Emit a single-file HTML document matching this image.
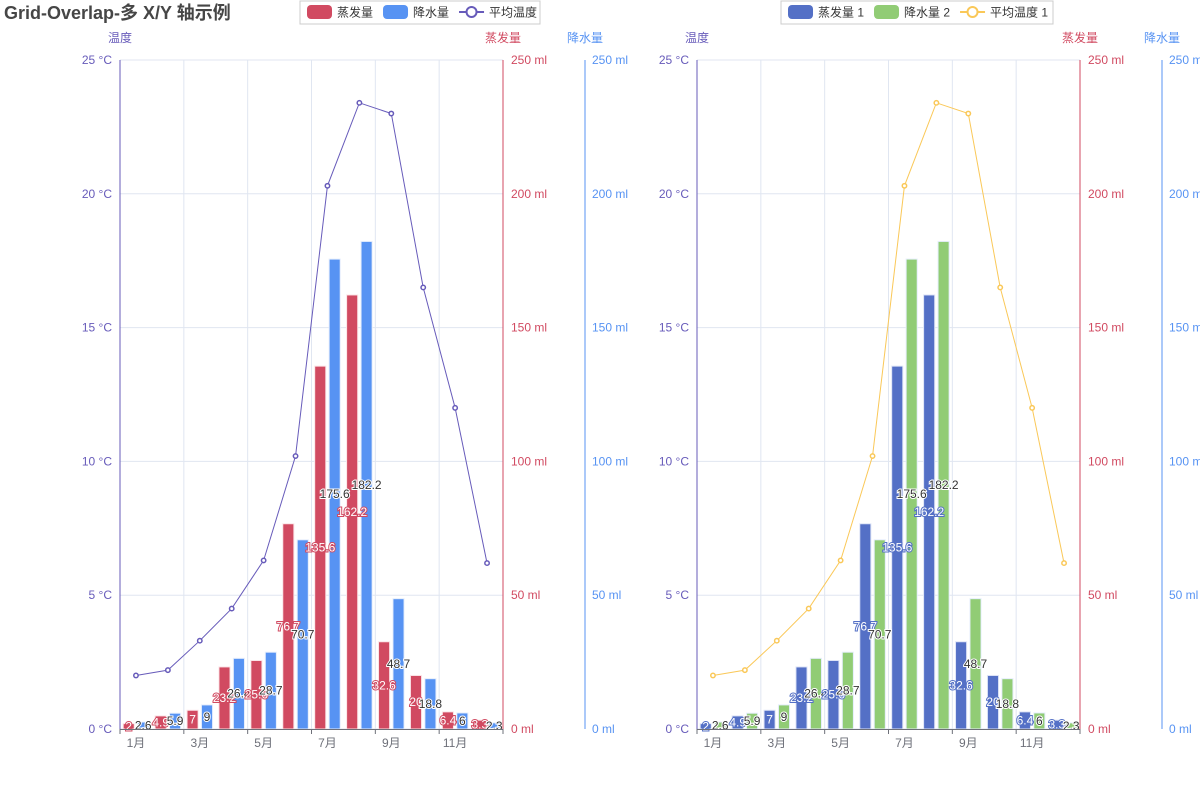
<!DOCTYPE html>
<html><head><meta charset="utf-8">
<style>
body{margin:0;background:#fff;width:1200px;height:800px;overflow:hidden;font-family:"Liberation Sans","Noto Sans CJK SC",sans-serif}
svg{display:block}
text{font-family:"Liberation Sans","Noto Sans CJK SC",sans-serif}
</style></head>
<body>
<svg id="c" width="1200" height="800"></svg>
<script>
const months=['1月','2月','3月','4月','5月','6月','7月','8月','9月','10月','11月','12月'];
const evaporation=[2.0,4.9,7.0,23.2,25.6,76.7,135.6,162.2,32.6,20.0,6.4,3.3];
const precipitation=[2.6,5.9,9.0,26.4,28.7,70.7,175.6,182.2,48.7,18.8,6.0,2.3];
const temperature=[2.0,2.2,3.3,4.5,6.3,10.2,20.3,23.4,23.0,16.5,12.0,6.2];
const tempTicks=[0,5,10,15,20,25];
const mlTicks=[0,50,100,150,200,250];

const svgEl=document.getElementById('c');
const NS='http://www.w3.org/2000/svg';
function mk(tag,attrs,parent,txt){const e=document.createElementNS(NS,tag);for(const k in attrs)e.setAttribute(k,attrs[k]);if(txt!==undefined)e.textContent=txt;(parent||svgEl).appendChild(e);return e;}

const PUR='#675bba',RED='#d14a61',BLU='#5793f3';
const plotTop=60,plotBot=729;

const t=mk('text',{x:4,y:19,'font-size':18,'font-weight':'bold',fill:'#464646'},svgEl,'Grid-Overlap-多 X/Y 轴示例');



function chart(x0,x1,x2,cEvap,cPrec,cLine,names,legX,legW,evapStroke,pfx){
  const yT=v=>plotBot-(v/25)*(plotBot-plotTop);
  const yM=v=>plotBot-(v/250)*(plotBot-plotTop);
  const cw=(x1-x0)/months.length;
  const g=mk('g',{});
  
  
  const lg=mk('g',{},g);
  
  
  mk('rect',{x:legX,y:1,width:legW,height:23,fill:'#fff',stroke:'#ccc'},lg);
  let lx=legX+7;
  [[cEvap,names[0],'bar'],[cPrec,names[1],'bar'],[cLine,names[2],'line']].forEach(([col,nm,kind],i)=>{
    const it=mk('g',{},lg);
    
    
    if(kind==='bar')mk('rect',{x:lx,y:5,width:25,height:14,rx:4,fill:col},it);
    else{mk('line',{x1:lx,y1:12,x2:lx+25,y2:12,stroke:col,'stroke-width':2},it);mk('circle',{cx:lx+12.5,cy:12,r:5,fill:'#fff',stroke:col,'stroke-width':2},it);}
    const tx=mk('text',{x:lx+30,y:16.5,'font-size':12,fill:'#333'},it,nm);
    let w=nm.length*12;
    try{w=tx.getComputedTextLength()||w;}catch(e){}
    lx+=30+w+10;
  });
  tempTicks.forEach(v=>{mk('line',{x1:x0,x2:x1,y1:yT(v),y2:yT(v),stroke:'#e0e6f1'},g);});
  for(let i=2;i<=months.length;i+=2){mk('line',{x1:x0+i*cw,x2:x0+i*cw,y1:plotTop,y2:plotBot,stroke:'#e0e6f1'},g);}
  const bw=cw*0.8/2.3,gap=bw*0.3;
  months.forEach((m,i)=>{
    const s=x0+i*cw+cw*0.1;
    const r1=mk('rect',{x:s,y:yM(evaporation[i]),width:bw,height:plotBot-yM(evaporation[i]),fill:cEvap,stroke:evapStroke,'stroke-width':1},g);
    
    
    const r2=mk('rect',{x:s+bw+gap,y:yM(precipitation[i]),width:bw,height:plotBot-yM(precipitation[i]),fill:cPrec,stroke:'#e6eefc','stroke-width':1},g);
    
    
  });
  let d='';temperature.forEach((v,i)=>{d+=(i?'L':'M')+(x0+(i+0.5)*cw)+','+yT(v);});
  const pl=mk('path',{d:d,fill:'none',stroke:cLine,'stroke-width':1},g);
  
  
  temperature.forEach((v,i)=>{const c=mk('circle',{cx:x0+(i+0.5)*cw,cy:yT(v),r:2.2,fill:'#fff',stroke:cLine,'stroke-width':1.5},g);
    
    });
  months.forEach((m,i)=>{
    const s=x0+i*cw+cw*0.1;
    const e=evaporation[i],p=precipitation[i];
    const t1=mk('text',{x:s+bw/2,y:(yM(e)+plotBot)/2+4,'font-size':12,'text-anchor':'middle',fill:'#fff',stroke:cEvap,'stroke-width':2,'paint-order':'stroke'},g,String(e));
    
    
    const t2=mk('text',{x:s+bw+gap+bw/2,y:(yM(p)+plotBot)/2+4,'font-size':12,'text-anchor':'middle',fill:'#333',stroke:'#fff','stroke-width':2,'paint-order':'stroke'},g,String(p));
    
    
  });
  const ax=mk('g',{},g);
  
  
  mk('line',{x1:x0,x2:x1,y1:plotBot+0.5,y2:plotBot+0.5,stroke:'#6e7079'},ax);
  for(let i=0;i<=months.length;i+=2){mk('line',{x1:x0+i*cw,x2:x0+i*cw,y1:plotBot,y2:plotBot+5,stroke:'#6e7079'},ax);}
  months.forEach((m,i)=>{if(i%2===0)mk('text',{x:x0+(i+0.5)*cw,y:plotBot+18,'font-size':12,fill:'#6e7079','text-anchor':'middle'},ax,m);});
  const ya=mk('g',{},g);
  
  
  mk('line',{x1:x0,x2:x0,y1:plotTop,y2:plotBot,stroke:PUR},ya);
  tempTicks.forEach(v=>mk('text',{x:x0-8,y:yT(v)+4,'font-size':12,fill:PUR,'text-anchor':'end'},ya,v+' °C'));
  mk('text',{x:x0,y:42,'font-size':12,fill:PUR,'text-anchor':'middle'},ya,'温度');
  const ye=mk('g',{},g);
  
  
  mk('line',{x1:x1,x2:x1,y1:plotTop,y2:plotBot,stroke:RED},ye);
  mlTicks.forEach(v=>mk('text',{x:x1+8,y:yM(v)+4,'font-size':12,fill:RED},ye,v+' ml'));
  mk('text',{x:x1,y:42,'font-size':12,fill:RED,'text-anchor':'middle'},ye,'蒸发量');
  const yp=mk('g',{},g);
  
  
  mk('line',{x1:x2,x2:x2,y1:plotTop,y2:plotBot,stroke:BLU},yp);
  mlTicks.forEach(v=>mk('text',{x:x2+7,y:yM(v)+4,'font-size':12,fill:BLU},yp,v+' ml'));
  mk('text',{x:x2,y:42,'font-size':12,fill:BLU,'text-anchor':'middle'},yp,'降水量');
}
chart(120,503,585,RED,BLU,PUR,['蒸发量','降水量','平均温度'],300,240,'#fbe5e8','left');
chart(697,1080,1162,'#5470c6','#91cc75','#fac858',['蒸发量 1','降水量 2','平均温度 1'],781,272,'#dfe5f7','right');
</script>
</body></html>
